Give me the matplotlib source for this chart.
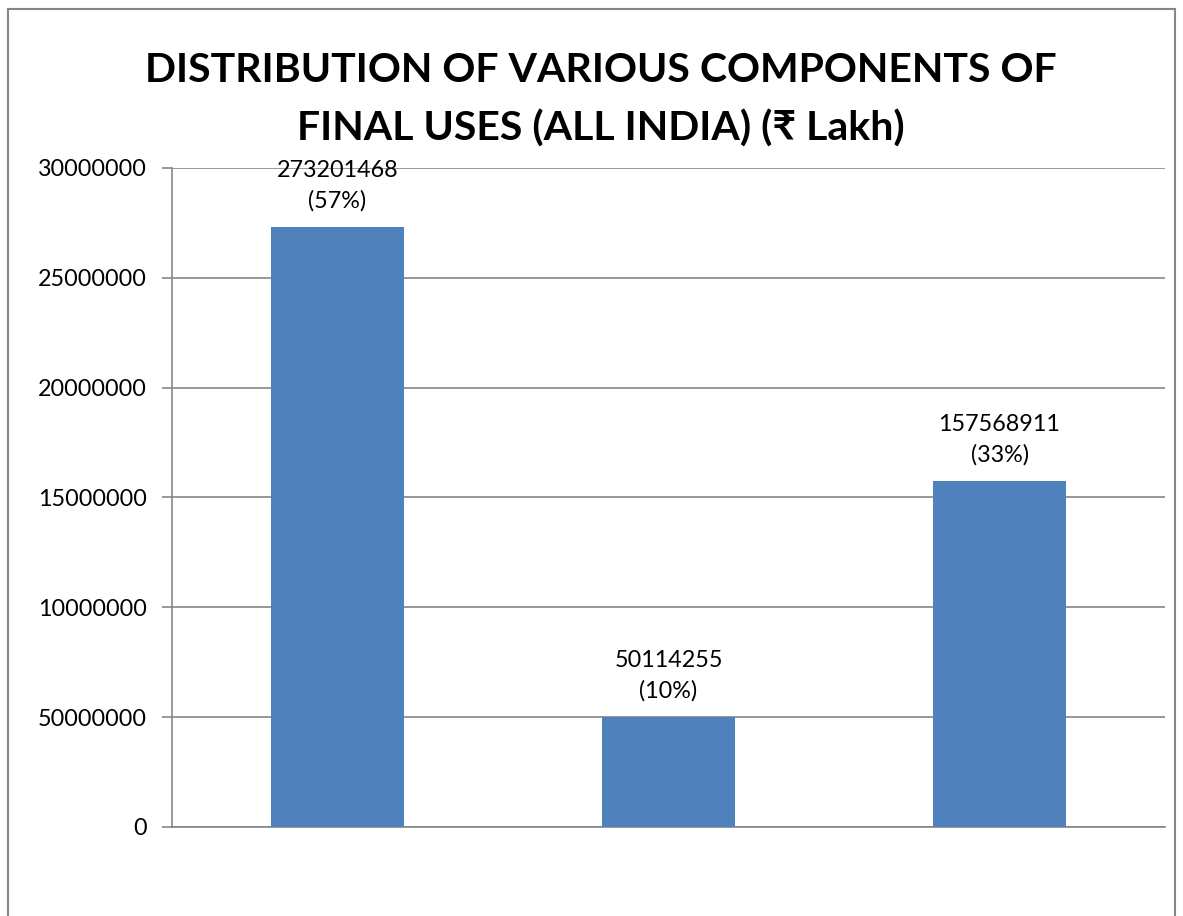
import matplotlib.pyplot as plt
from matplotlib.patches import Rectangle

# Data
categories = ['A', 'B', 'C']
values = [273201468, 50114255, 157568911]
shares = [57, 10, 33]
tick_values = [0, 5000000, 10000000, 15000000, 20000000, 25000000, 30000000]
tick_labels = ['0', '50000000', '10000000', '15000000', '20000000', '25000000', '30000000']
# the original axis is drawn at 1/10 of the labelled values
axis_scale = 10

title = 'DISTRIBUTION OF VARIOUS COMPONENTS OF\nFINAL USES (ALL INDIA) (\u20b9 Lakh)'

fig = plt.figure(figsize=(11.83, 9.16), dpi=100)
ax = fig.add_axes([0.1454, 0.0972, 0.8394, 0.7194])

heights = [v / axis_scale for v in values]
x = range(len(categories))
ax.bar(x, heights, width=0.4, color='#4F81BD', zorder=3)

# Data labels
for xi, h, v, s in zip(x, heights, values, shares):
    ax.annotate(f'{v}\n({s}%)', (xi, h), xytext=(0, 11), textcoords='offset points',
                ha='center', va='bottom', fontsize=16.8, family=['Lato', 'DejaVu Sans'],
                linespacing=1.5, zorder=4)

ax.set_xlim(-0.5, 2.5)
ax.set_ylim(0, 30000000)
ax.set_yticks(tick_values)
ax.set_yticklabels(tick_labels, fontsize=16.8, family=['Lato', 'DejaVu Sans'])
ax.set_xticks([])
ax.yaxis.grid(True, color='#868686', linewidth=1.2, zorder=0)
ax.tick_params(axis='y', length=7, width=1.2, color='#868686', pad=11)
for side in ['top', 'right']:
    ax.spines[side].set_visible(False)
for side in ['left', 'bottom']:
    ax.spines[side].set_color('#868686')
    ax.spines[side].set_linewidth(1.2)

fig.text(0.508, 0.943, title, ha='center', va='top', fontsize=29.5, fontweight='bold',
         family=['Lato', 'DejaVu Sans'], linespacing=1.66)

# Outer chart border
fig.patches.append(Rectangle((0.007, -0.05), 0.986, 1.04, transform=fig.transFigure,
                             fill=False, edgecolor='#868686', linewidth=1.5, clip_on=False))

fig.savefig('out.png', dpi=100)
